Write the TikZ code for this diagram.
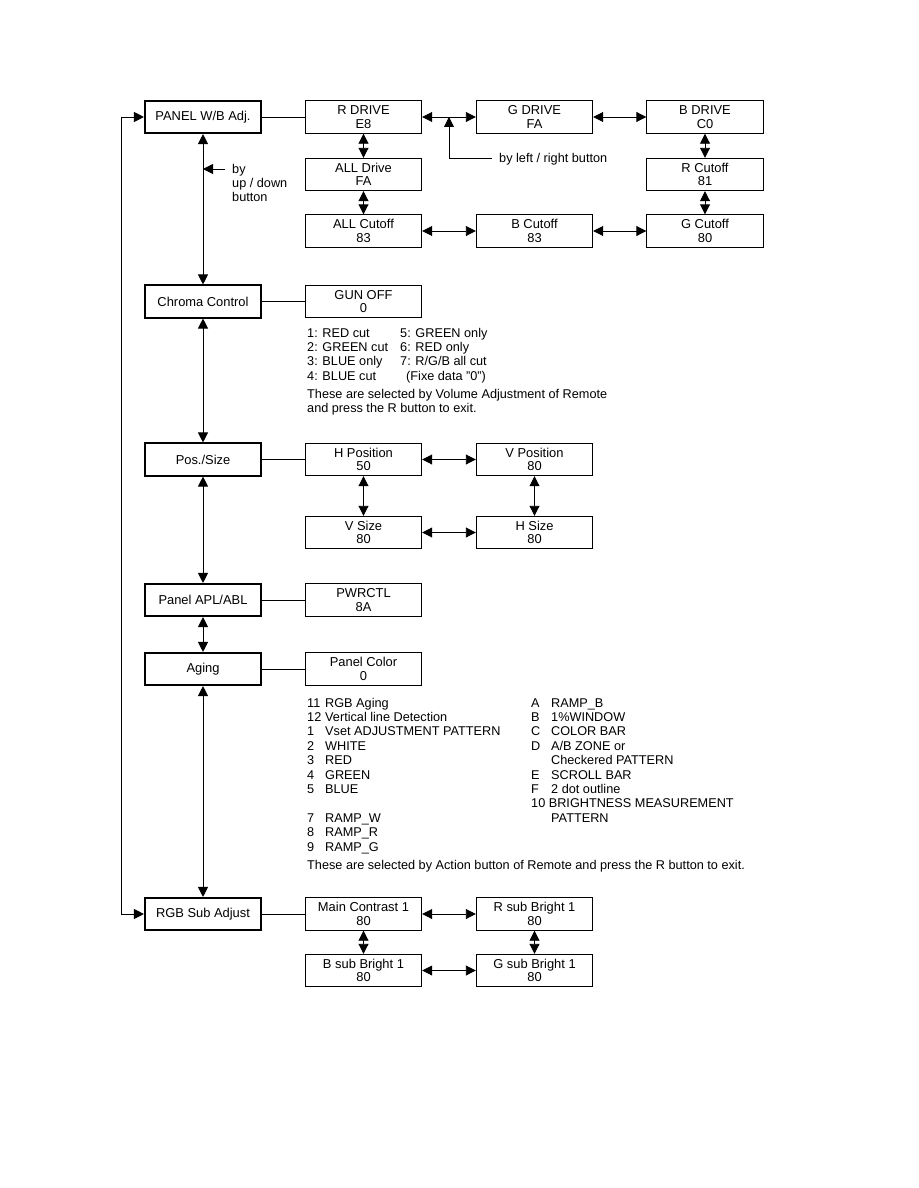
\documentclass[tikz,border=0pt]{standalone}
\usepackage{fontspec}
\setmainfont{Liberation Sans}
\usetikzlibrary{arrows.meta, positioning}
\tikzset{
    menubox/.style={draw, line width=1.6pt, minimum width=116.5pt,
        minimum height=32.5pt, inner sep=0pt, align=center,
        font=\fontsize{12.9}{13.5}\selectfont},
    databox/.style={draw, line width=0.9pt, minimum width=116.5pt,
        minimum height=32.5pt, inner sep=0pt, align=center,
        font=\fontsize{12.9}{13.5}\selectfont},
    link/.style={line width=0.8pt},
    both/.style={line width=0.9pt,
        {Triangle[length=10pt, width=10pt]}-{Triangle[length=10pt, width=10pt]}},
    push/.style={line width=0.8pt, -{Triangle[length=10pt, width=10pt]}},
    note/.style={anchor=base west, inner sep=0pt, align=left,
        font=\fontsize{12.7}{14.4}\selectfont},
}
\begin{document}
\begin{tikzpicture}[x=1pt, y=-1pt]
    \useasboundingbox (0,0) rectangle (918,1188);
    % menu column
    \node[menubox] (wb) at (203,117) {PANEL W/B Adj.};
    \node[menubox] (chroma) at (203,301.5) {Chroma Control};
    \node[menubox] (pos) at (203,459.5) {Pos./Size};
    \node[menubox] (apl) at (203,600) {Panel APL/ABL};
    \node[menubox] (aging) at (203,669) {Aging};
    \node[menubox] (rgb) at (203,914) {RGB Sub Adjust};
    \draw[both] (wb) -- (chroma);
    \draw[both] (chroma) -- (pos);
    \draw[both] (pos) -- (apl);
    \draw[both] (apl) -- (aging);
    \draw[both] (aging) -- (rgb);
    \draw[both] (wb.west) -- ++(-22.5,0) |- (rgb.west);
    \coordinate (updown) at (225,169);
    \draw[push] (updown) -- (updown -| wb);
    \node[note, font=\fontsize{12.7}{14}\selectfont] (updowntext) at (232,201)
        {by\\up / down\\button};
    % W/B adjustment
    \node[databox] (rdrive) at (363.5,117) {R DRIVE\\E8};
    \node[databox] (gdrive) at (534.5,117) {G DRIVE\\FA};
    \node[databox] (bdrive) at (705,117) {B DRIVE\\C0};
    \node[databox] (alldrive) at (363.5,174.5) {ALL Drive\\FA};
    \node[databox] (rcut) at (705,174.5) {R Cutoff\\81};
    \node[databox] (allcut) at (363.5,231) {ALL Cutoff\\83};
    \node[databox] (bcut) at (534.5,231) {B Cutoff\\83};
    \node[databox] (gcut) at (705,231) {G Cutoff\\80};
    \draw[link] (wb) -- (rdrive);
    \draw[both] (rdrive) -- (gdrive);
    \draw[both] (gdrive) -- (bdrive);
    \draw[both] (bdrive) -- (rcut);
    \draw[both] (rcut) -- (gcut);
    \draw[both] (bcut) -- (gcut);
    \draw[both] (allcut) -- (bcut);
    \draw[both] (alldrive) -- (allcut);
    \draw[both] (rdrive) -- (alldrive);
    \coordinate (leftright) at (492,158);
    \coordinate (lrcorner) at (449,158);
    \draw[push] (leftright) -- (lrcorner) -- (lrcorner |- rdrive);
    \node[note] (lrtext) at (499,162) {by left / right button};
    % chroma
    \node[databox] (gunoff) at (363.5,301.5) {GUN OFF\\0};
    \draw[link] (chroma) -- (gunoff);
    \node[note] (gunlist) at (307,337) {\begin{tabular}[t]{@{}p{93pt}@{}l@{}}
        1: RED cut & 5: GREEN only\\
        2: GREEN cut & 6: RED only\\
        3: BLUE only & 7: R/G/B all cut\\
        4: BLUE cut & \hspace{6pt}(Fixe data "0")
        \end{tabular}};
    \node[note] (gunhint) at (307,412.5)
        {These are selected by Volume Adjustment of Remote\\
        and press the R button to exit.};
    % position / size
    \node[databox] (hpos) at (363.5,459.5) {H Position\\50};
    \node[databox] (vpos) at (534.5,459.5) {V Position\\80};
    \node[databox] (vsize) at (363.5,532.5) {V Size\\80};
    \node[databox] (hsize) at (534.5,532.5) {H Size\\80};
    \draw[link] (pos) -- (hpos);
    \draw[both] (hpos) -- (vpos);
    \draw[both] (vpos) -- (hsize);
    \draw[both] (vsize) -- (hsize);
    \draw[both] (hpos) -- (vsize);
    % APL / aging
    \node[databox] (pwr) at (363.5,600) {PWRCTL\\8A};
    \draw[link] (apl) -- (pwr);
    \node[databox] (pcolor) at (363.5,669) {Panel Color\\0};
    \draw[link] (aging) -- (pcolor);
    \node[note] (aginglist) at (307,707) {\begin{tabular}[t]{@{}p{18pt}@{}l@{}}
        11 & RGB Aging\\
        12 & Vertical line Detection\\
        1 & Vset ADJUSTMENT PATTERN\\
        2 & WHITE\\
        3 & RED\\
        4 & GREEN\\
        5 & BLUE\\
        & \\
        7 & RAMP\_W\\
        8 & RAMP\_R\\
        9 & RAMP\_G
        \end{tabular}};
    \node[note] (agingmore) at (531,707) {\begin{tabular}[t]{@{}p{20pt}@{}l@{}}
        A & RAMP\_B\\
        B & 1\%WINDOW\\
        C & COLOR BAR\\
        D & A/B ZONE or\\
        & Checkered PATTERN\\
        E & SCROLL BAR\\
        F & 2 dot outline\\
        \multicolumn{2}{@{}l@{}}{10 BRIGHTNESS MEASUREMENT}\\
        & PATTERN
        \end{tabular}};
    \node[note] (aginghint) at (307,869)
        {These are selected by Action button of Remote and press the R button to exit.};
    % RGB sub adjust
    \node[databox] (contrast) at (363.5,914) {Main Contrast 1\\80};
    \node[databox] (rsub) at (534.5,914) {R sub Bright 1\\80};
    \node[databox] (bsub) at (363.5,970.5) {B sub Bright 1\\80};
    \node[databox] (gsub) at (534.5,970.5) {G sub Bright 1\\80};
    \draw[link] (rgb) -- (contrast);
    \draw[both] (contrast) -- (rsub);
    \draw[both] (rsub) -- (gsub);
    \draw[both] (bsub) -- (gsub);
    \draw[both] (contrast) -- (bsub);
\end{tikzpicture}
\end{document}
